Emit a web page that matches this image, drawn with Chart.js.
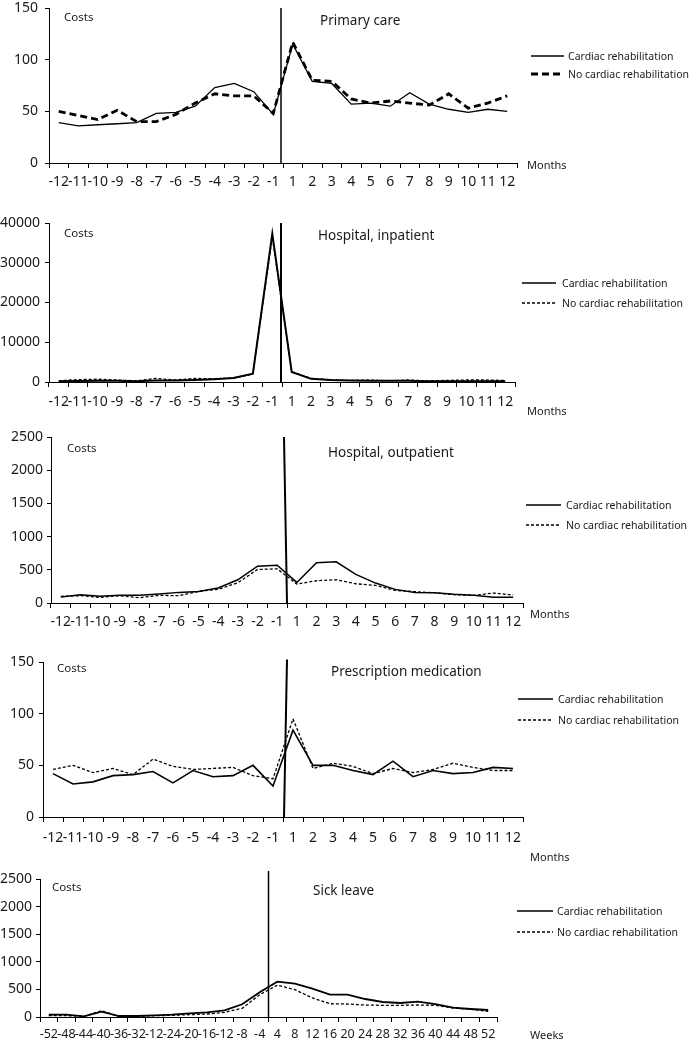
<!DOCTYPE html>
<html><head><meta charset="utf-8">
<script src="https://cdn.jsdelivr.net/npm/chart.js@4"></script>
<style>
body{margin:0;background:#fff;}
#wrap{position:relative;width:690px;height:1044px;overflow:hidden;font-family:"Noto Sans",sans-serif;color:#1a1a1a;background:#fff;}
.band{position:absolute;left:0;width:690px;}
.t{position:absolute;white-space:nowrap;line-height:1;transform:translateY(-50%);z-index:2;}
.lg{position:absolute;z-index:2;}
</style></head><body><div id="wrap"></div>
<script>
// ---- categories ----
const months = ['-12','-11','-10','-9','-8','-7','-6','-5','-4','-3','-2','-1','1','2','3','4','5','6','7','8','9','10','11','12'];
const weeks = ['-52','-48','-44','-40','-36','-32','-12','-24','-20','-16','-12','-8','-4','4','8','12','16','20','24','28','32','36','40','44','48','52'];
const seriesNames = ['Cardiac rehabilitation','No cardiac rehabilitation'];

// ---- series values ----
const primaryCR = [39,36,37,38,39,48,49,55,73,77,69,47, 115,79,77,57,58,55,68,57,52,49,52,50];
const primaryNo = [50,46,42,51,40,40,47,58,67,65,65,48, 117,80,79,62,58,60,58,56,67,53,58,65];

const inpatientCR = [200,250,300,300,200,400,400,500,700,1000,2100,37300, 2500,800,500,400,300,300,300,200,200,200,200,200];
const inpatientNo = [300,600,700,500,300,900,500,900,800,1000,2000,36500, 2600,900,500,400,500,300,500,300,400,500,500,400];

const outpatientCR = [90,126,100,115,115,135,160,175,225,350,555,570, 310,605,620,430,300,205,160,155,130,115,85,85];
const outpatientNo = [100,110,85,110,80,115,110,175,205,305,505,515, 285,335,350,290,265,190,170,155,125,115,150,120];

const medicationCR = [42,32,34,40,41,44,33,45,39,40,50,30, 84,50,50,45,41,54,39,45,42,43,48,47];
const medicationNo = [46,50,43,47,41,56,49,46,47,48,40,37, 95,47,52,49,42,47,43,46,52,48,45,45];

const sickCR = [42,42,12,97,18,18,30,42,66,85,120,230,450, 640,605,513,405,405,326,272,254,278,235,170,145,127];
const sickNo = [24,24,12,115,6,12,24,30,42,54,85,157,405, 575,495,345,240,235,217,211,211,217,211,163,139,103];

// ---- axis ranges / tick steps ----
const yMax = [150, 40000, 2500, 150, 2500];
const yStep = [50, 10000, 500, 50, 500];
const titles = ['Primary care','Hospital, inpatient','Hospital, outpatient','Prescription medication','Sick leave'];

const FONT = '"Noto Sans", sans-serif';
const wrap = document.getElementById('wrap');

const vlinePlugin = {
  id: 'vline',
  afterDatasetsDraw(chart, args, o) {
    const xs = chart.scales.x, ys = chart.scales.y;
    const xb = (xs.getPixelForValue(o.idx) + xs.getPixelForValue(o.idx + 1)) / 2;
    const ctx = chart.ctx;
    ctx.save();
    ctx.strokeStyle = '#000';
    ctx.lineWidth = o.width;
    ctx.beginPath();
    ctx.moveTo(xb + o.dxTop, ys.getPixelForValue(o.top));
    ctx.lineTo(xb + o.dxBot, ys.getPixelForValue(0));
    ctx.stroke();
    ctx.restore();
  }
};

const panels = [
  {labels: months, cr: primaryCR, no: primaryNo, i: 0, bandTop: -10, bandH: 210, left: 49, right: 517, top: 8, axisY: 163,
   solidW: 1.3, dashW: 2.8, dash: [7,4], yPad: 7, xFont: 14, xPad: 6, vl: {idx: 11, top: 150, dxTop: -2, dxBot: -2, width: 1.5},
   costs: [64,17], title: [320,21], unit: ['Months',527,164], lg: {x1: 531, x2: 564, tx: 568, y1: 56, y2: 74}},
  {labels: months, cr: inpatientCR, no: inpatientNo, i: 1, bandTop: 200, bandH: 220, left: 49, right: 515, top: 223, axisY: 382,
   solidW: 2, dashW: 1.3, dash: [3,2], yPad: 5, xFont: 14, xPad: 7, vl: {idx: 11, top: 40000, dxTop: -1, dxBot: -1, width: 2},
   costs: [64,233], title: [318,236], unit: ['Months',527,410], lg: {x1: 522, x2: 556, tx: 562, y1: 283, y2: 303}},
  {labels: months, cr: outpatientCR, no: outpatientNo, i: 2, bandTop: 420, bandH: 210, left: 51, right: 523, top: 437, axisY: 603,
   solidW: 1.5, dashW: 1.3, dash: [3,2], yPad: 4, xFont: 14, xPad: 6, vl: {idx: 11, top: 2500, dxTop: -3, dxBot: 0, width: 2},
   costs: [67,448], title: [328,453], unit: ['Months',530,613], lg: {x1: 526, x2: 561, tx: 566, y1: 505, y2: 525}},
  {labels: months, cr: medicationCR, no: medicationNo, i: 3, bandTop: 630, bandH: 215, left: 43, right: 523, top: 662, axisY: 817,
   solidW: 1.6, dashW: 1.3, dash: [3,2], yPad: 5, xFont: 14, xPad: 8, vl: {idx: 11, top: 152.5, dxTop: 4, dxBot: 1, width: 2},
   costs: [57,668], title: [331,672], unit: ['Months',530,856], lg: {x1: 518, x2: 553, tx: 558, y1: 699, y2: 720}},
  {labels: weeks, cr: sickCR, no: sickNo, i: 4, bandTop: 845, bandH: 199, left: 40, right: 497, top: 879, axisY: 1017,
   solidW: 1.8, dashW: 1.3, dash: [3,2], yPad: 4, xFont: 12.5, xPad: 5, vl: {idx: 12, top: 2645, dxTop: 0, dxBot: 0, width: 1.5},
   costs: [52,887], title: [313,891], unit: ['Weeks',530,1034], lg: {x1: 517, x2: 553, tx: 557, y1: 911, y2: 932}}
];

function addText(txt, x, y, size) {
  const d = document.createElement('div');
  d.className = 't';
  d.style.left = x + 'px'; d.style.top = y + 'px'; d.style.fontSize = size + 'px';
  d.textContent = txt;
  wrap.appendChild(d);
}
function addLegendLine(x1, x2, y, w, dash) {
  const ns = 'http://www.w3.org/2000/svg';
  const s = document.createElementNS(ns, 'svg');
  s.setAttribute('width', x2 - x1); s.setAttribute('height', 8);
  s.setAttribute('class', 'lg');
  s.style.left = x1 + 'px'; s.style.top = (y - 4) + 'px';
  const l = document.createElementNS(ns, 'line');
  l.setAttribute('x1', 0); l.setAttribute('x2', x2 - x1); l.setAttribute('y1', 4); l.setAttribute('y2', 4);
  l.setAttribute('stroke', '#000'); l.setAttribute('stroke-width', w);
  if (dash) l.setAttribute('stroke-dasharray', dash.join(' '));
  s.appendChild(l);
  wrap.appendChild(s);
}

panels.forEach(p => {
  const band = document.createElement('div');
  band.className = 'band';
  band.style.top = p.bandTop + 'px';
  band.style.height = p.bandH + 'px';
  const cv = document.createElement('canvas');
  cv.width = 690; cv.height = p.bandH;
  band.appendChild(cv);
  wrap.appendChild(band);
  const xAxisH = p.bandTop + p.bandH - p.axisY;
  new Chart(cv, {
    type: 'line',
    data: {
      labels: p.labels,
      datasets: [
        {label: seriesNames[0], data: p.cr, borderColor: '#000', borderWidth: p.solidW, pointRadius: 0, tension: 0, fill: false},
        {label: seriesNames[1], data: p.no, borderColor: '#000', borderWidth: p.dashW, borderDash: p.dash, pointRadius: 0, tension: 0, fill: false}
      ]
    },
    options: {
      responsive: false,
      animation: false,
      devicePixelRatio: 1,
      layout: {padding: {left: 0, right: 690 - p.right, top: p.top - p.bandTop, bottom: 0}},
      plugins: {legend: {display: false}, tooltip: {enabled: false}, vline: p.vl},
      scales: {
        x: {
          type: 'category', offset: true,
          grid: {display: true, drawOnChartArea: false, offset: true, tickLength: 5, color: '#000', lineWidth: 1},
          border: {display: true, color: '#000', width: 1},
          ticks: {autoSkip: false, maxRotation: 0, minRotation: 0, color: '#1a1a1a', padding: p.xPad, font: {family: FONT, size: p.xFont}},
          afterFit(s) { s.height = xAxisH; }
        },
        y: {
          min: 0, max: yMax[p.i],
          ticks: {stepSize: yStep[p.i], color: '#1a1a1a', padding: p.yPad, font: {family: FONT, size: 14},
                  callback: v => String(v)},
          grid: {display: true, drawOnChartArea: false, tickLength: 4, color: '#000', lineWidth: 1},
          border: {display: true, color: '#000', width: 1},
          afterFit(s) { s.width = p.left; }
        }
      }
    },
    plugins: [vlinePlugin]
  });
  addText('Costs', p.costs[0], p.costs[1], 11.5);
  addText(titles[p.i], p.title[0], p.title[1], 13.5);
  addText(p.unit[0], p.unit[1], p.unit[2], 11);
  addLegendLine(p.lg.x1, p.lg.x2, p.lg.y1, 1.3, null);
  addLegendLine(p.lg.x1, p.lg.x2, p.lg.y2, p.i === 0 ? 2.8 : 1.3, p.dash);
  addText(seriesNames[0], p.lg.tx, p.lg.y1, 10.5);
  addText(seriesNames[1], p.lg.tx, p.lg.y2, 10.5);
});
</script>
</body></html>
